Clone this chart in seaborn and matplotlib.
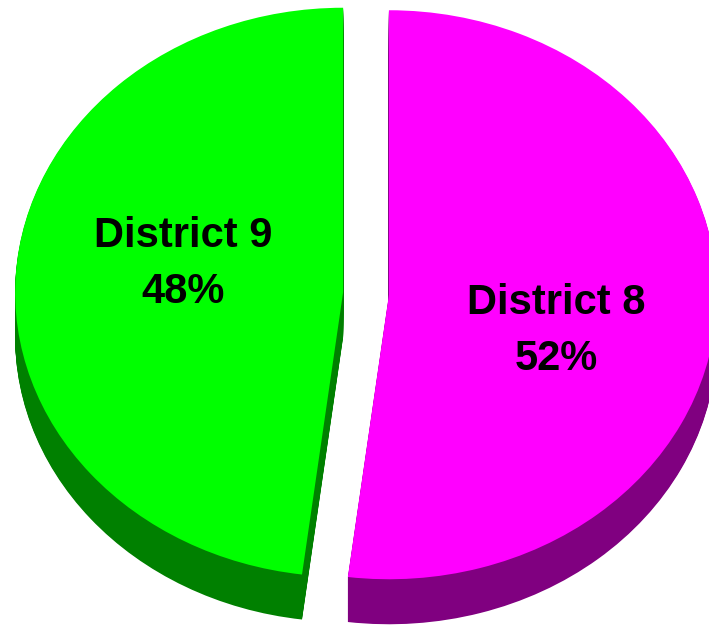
import matplotlib
matplotlib.use("Agg")
import matplotlib.pyplot as plt
import seaborn as sns

districts = ["District 8", "District 9"]
shares = [52, 48]
top_colors = ["#FF00FF", "#00FF00"]
side_colors = ["#800080", "#008000"]

sns.set_style("white")
plt.rcParams['font.family'] = ['Liberation Sans', 'DejaVu Sans']

fig = plt.figure(figsize=(7.09, 6.26), dpi=100)
ax = fig.add_axes([0, 0, 1, 1])

explode = [0.07, 0.07]
depth = 45 / 284.5
n_layers = 46

# side of the pie: stacked copies, from the bottom up
for k in range(n_layers, 0, -1):
    ax.pie(shares, colors=side_colors, startangle=90, counterclock=False,
           explode=explode, center=(0, -depth * k / n_layers),
           wedgeprops=dict(linewidth=0, edgecolor='none'))

# top face
wedges, _ = ax.pie(shares, colors=top_colors, startangle=90, counterclock=False,
                   explode=explode, center=(0, 0),
                   wedgeprops=dict(linewidth=0, edgecolor='none'))

# labels
label_pos = {"District 8": (0.579, -0.132), "District 9": (-0.558, 0.104)}
for name, val in zip(districts, shares):
    x, y = label_pos[name]
    ax.text(x, y, f"{name}\n{val}%", ha='center', va='center', fontsize=30,
            fontweight='bold', linespacing=1.5, color='black')

ax.set_aspect('auto')
ax.set_xlim(-1.116, 1.0457)
ax.set_ylim(-1.1687, 1.0316)
ax.axis('off')

fig.savefig("out.png", dpi=100, facecolor='white')
